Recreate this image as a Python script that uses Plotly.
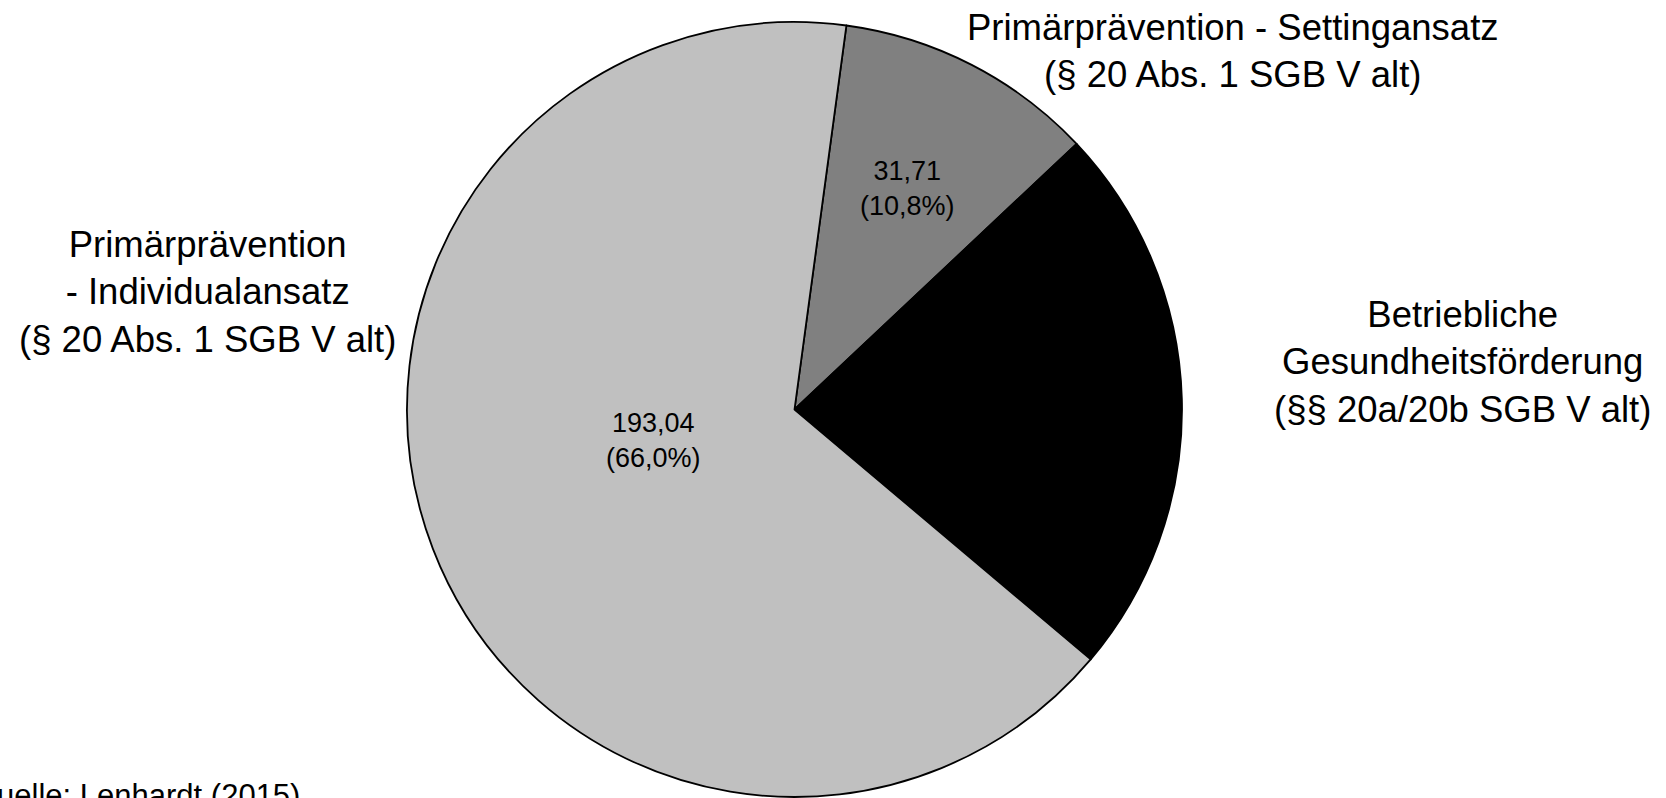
import plotly.graph_objects as go

# Data (Mio. Euro)
categories = [
    "Primärprävention - Settingansatz<br>(§ 20 Abs. 1 SGB V alt)",
    "Betriebliche<br>Gesundheitsförderung<br>(§§ 20a/20b SGB V alt)",
    "Primärprävention<br>- Individualansatz<br>(§ 20 Abs. 1 SGB V alt)",
]
values = [31.71, 67.80, 193.04]
colors = ["#808080", "#000000", "#C0C0C0"]
source_note = "Quelle: Lenhardt (2015)"

W, H = 1666, 798
FONT = "Liberation Sans, Arial, Helvetica, sans-serif"

def px(x, y):
    return x / W, (H - y) / H

total = sum(values)

def fmt(v):
    return f"{v:.2f}".replace(".", ",")

def fmtp(v):
    return f"({100 * v / total:.1f}%)".replace(".", ",")

cx, cy, R = 794.5, 409.5, 387.5

fig = go.Figure(
    go.Pie(
        labels=categories,
        values=values,
        sort=False,
        direction="clockwise",
        rotation=7.7,
        marker=dict(colors=colors, line=dict(color="#000000", width=1.8)),
        textinfo="none",
        hoverinfo="label+value+percent",
        domain=dict(x=[(cx - R) / W, (cx + R) / W], y=[(H - cy - R) / H, (H - cy + R) / H]),
        showlegend=False,
    )
)

annotations = []
# inside value labels (black slice label is black on black in the original)
inner_pos = [(907, 188), (1010, 460), (653, 441)]
for v, (x, y), c in zip(values, inner_pos, colors):
    if c == "#000000":
        continue
    ax, ay = px(x, y)
    annotations.append(dict(x=ax, y=ay, xref="paper", yref="paper", showarrow=False,
                            xanchor="center", yanchor="middle",
                            text=f"{fmt(v)}<br>{fmtp(v)}", align="center",
                            font=dict(family=FONT, size=27, color="#000000")))

# outer category labels
outer_pos = [(1232.5, 51), (1462, 362), (207.5, 292)]
for lab, (x, y) in zip(categories, outer_pos):
    ax, ay = px(x, y)
    annotations.append(dict(x=ax, y=ay, xref="paper", yref="paper", showarrow=False,
                            xanchor="center", yanchor="middle",
                            text=lab, align="center",
                            font=dict(family=FONT, size=36.5, color="#000000")))

sx, sy = px(302, 795)
annotations.append(dict(x=sx, y=sy, xref="paper", yref="paper", showarrow=False,
                        xanchor="right", yanchor="middle", text=source_note,
                        font=dict(family=FONT, size=31, color="#000000")))

fig.update_layout(
    width=W, height=H,
    margin=dict(l=0, r=0, t=0, b=0),
    paper_bgcolor="#FFFFFF", plot_bgcolor="#FFFFFF",
    annotations=annotations,
)

fig.write_html("out.html")
